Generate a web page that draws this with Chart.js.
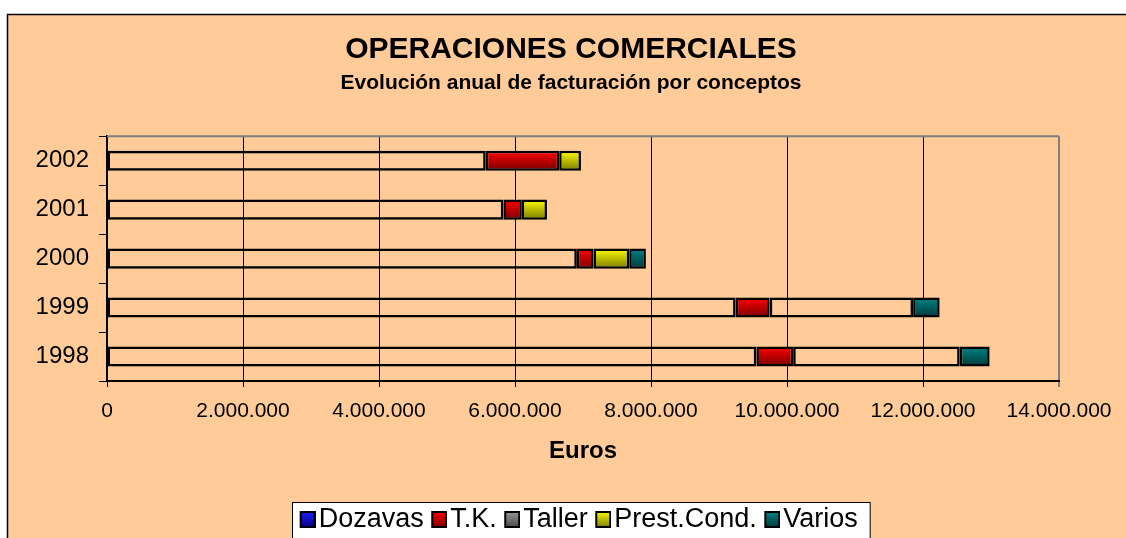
<!DOCTYPE html>
<html>
<head>
<meta charset="utf-8">
<script src="https://cdn.jsdelivr.net/npm/chart.js@4.4.1/dist/chart.umd.min.js"></script>
<style>
  html, body { margin: 0; padding: 0; background: #fff; }
  #wrap { width: 1126px; height: 538px; position: relative; }
</style>
</head>
<body>
<div id="wrap"><canvas id="chart"></canvas></div>
<script>
var FONT = "'Liberation Sans', Arial, sans-serif";
var PEACH = '#ffcc99';
var BAR_PCT = 0.41;
var TITLE_CENTER = 571;
var LEGEND_CENTER = 581;

// importes en euros
var years = ['1998', '1999', '2000', '2001', '2002'];
var dozavas   = [9550000, 9245000, 6910000, 5830000, 5570000];
var tk        = [540000, 500000, 245000, 270000, 1080000];
var taller    = [2450000, 2110000, 0, 0, 0];
var prestCond = [0, 0, 525000, 370000, 320000];
var varios    = [440000, 390000, 245000, 0, 0];

var xTickValues = [0, 2000000, 4000000, 6000000, 8000000, 10000000, 12000000, 14000000];
var xTickLabels = ['0', '2.000.000', '4.000.000', '6.000.000', '8.000.000', '10.000.000', '12.000.000', '14.000.000'];

function barFill(top, bottom) {
  return function (ctx) {
    var chart = ctx.chart;
    var y = chart.scales && chart.scales.y;
    if (!chart.chartArea || !y || ctx.dataIndex === undefined) return top;
    var yc = y.getPixelForValue(ctx.dataIndex);
    var half = y.height / years.length * BAR_PCT / 2;
    var g = chart.ctx.createLinearGradient(0, yc - half, 0, yc + half);
    g.addColorStop(0, top);
    g.addColorStop(1, bottom);
    return g;
  };
}

// cuadrito de la leyenda, con margen transparente a la izquierda
function swatch(top, bottom) {
  var c = document.createElement('canvas');
  c.width = 22; c.height = 17;
  var x = c.getContext('2d');
  var g = x.createLinearGradient(0, 0, 0, 17);
  g.addColorStop(0, top);
  g.addColorStop(1, bottom);
  x.fillStyle = g;
  x.fillRect(6, 0, 16, 17);
  x.strokeStyle = '#000';
  x.lineWidth = 2;
  x.strokeRect(7, 1, 14, 15);
  return c;
}

function serie(label, data, fill, legTop, legBottom) {
  return {
    label: label,
    data: data,
    backgroundColor: fill,
    legendSwatch: swatch(legTop, legBottom),
  };
}

var datasets = [
  serie('Dozavas', dozavas, 'rgba(0,0,0,0)', '#2020ff', '#000080'),
  serie('T.K.', tk, barFill('#ff0000', '#7a0000'), '#ff0000', '#7a0000'),
  serie('Taller', taller, 'rgba(0,0,0,0)', '#9a9a9a', '#4a4a4a'),
  serie('Prest.Cond.', prestCond, barFill('#ffff00', '#7a7a00'), '#ffff00', '#7a7a00'),
  serie('Varios', varios, barFill('#008585', '#003838'), '#008585', '#003838'),
];

function shiftBox(box, center) {
  var d = center - (box.left + box.right) / 2;
  box.left += d;
  box.right += d;
}

var frame = {
  id: 'frame',
  afterLayout: function (chart) {
    chart.boxes.forEach(function (b) {
      if (b === chart.legend) shiftBox(b, LEGEND_CENTER);
      else if (!b.axis && b.options && typeof b.options.text === 'string') shiftBox(b, TITLE_CENTER);
    });
  },
  beforeDraw: function (chart) {
    var c = chart.ctx;
    c.save();
    c.fillStyle = '#fff';
    c.fillRect(0, 0, chart.width, chart.height);
    c.fillStyle = PEACH;
    c.fillRect(8, 14, chart.width, chart.height);
    c.strokeStyle = '#000';
    c.lineWidth = 1.5;
    c.beginPath();
    c.moveTo(7.5, chart.height);
    c.lineTo(7.5, 14.5);
    c.lineTo(chart.width, 14.5);
    c.stroke();
    var lg = chart.legend;
    if (lg && lg.legendHitBoxes && lg.legendHitBoxes.length) {
      var hb = lg.legendHitBoxes;
      var last = hb[hb.length - 1];
      var l = hb[0].left - 12;
      var r = last.left + last.width + 12;
      var t = hb[0].top - 4;
      c.fillStyle = '#fff';
      c.fillRect(l, t, r - l, chart.height);
      c.strokeStyle = '#000';
      c.lineWidth = 1;
      c.strokeRect(Math.round(l) + 0.5, Math.round(t) + 0.5, r - l, chart.height);
    }
    c.restore();
  },
  beforeDatasetsDraw: function (chart) {
    var a = chart.chartArea, c = chart.ctx;
    c.save();
    c.strokeStyle = '#808080';
    c.lineWidth = 2;
    c.beginPath();
    c.moveTo(a.left, a.top);
    c.lineTo(a.right, a.top);
    c.stroke();
    c.restore();
  },
};

new Chart(document.getElementById('chart').getContext('2d'), {
  type: 'bar',
  data: { labels: years, datasets: datasets },
  options: {
    indexAxis: 'y',
    responsive: true,
    maintainAspectRatio: false,
    animation: false,
    layout: { padding: { left: 0, right: 67, top: 0, bottom: -5 } },
    datasets: {
      bar: {
        barPercentage: BAR_PCT,
        categoryPercentage: 1,
        borderColor: '#000',
        borderWidth: 2.5,
        borderSkipped: false,
      },
    },
    scales: {
      x: {
        stacked: true,
        min: 0,
        max: 14000000,
        afterBuildTicks: function (scale) {
          scale.ticks = xTickValues.map(function (v) { return { value: v }; });
        },
        afterFit: function (scale) { scale.height = 113; },
        grid: {
          color: function (ctx) { return ctx.index === xTickValues.length - 1 ? '#808080' : '#000'; },
          lineWidth: function (ctx) { return ctx.index === xTickValues.length - 1 ? 2 : 1; },
          tickLength: 6,
        },
        border: { color: '#000', width: 2 },
        ticks: {
          color: '#000',
          padding: 12,
          maxRotation: 0,
          font: { family: FONT, size: 21 },
          callback: function (value, index) { return xTickLabels[index]; },
        },
        title: {
          display: true,
          text: 'Euros',
          color: '#000',
          font: { family: FONT, size: 24, weight: 'bold' },
          padding: { top: 0, bottom: 28 },
        },
      },
      y: {
        stacked: true,
        reverse: true,
        afterFit: function (scale) { scale.width = 107; },
        grid: { offset: true, drawOnChartArea: false, color: '#000', tickLength: 8 },
        border: { color: '#000', width: 2 },
        ticks: { color: '#000', padding: 10, font: { family: FONT, size: 24 } },
      },
    },
    plugins: {
      title: {
        display: true,
        text: 'OPERACIONES COMERCIALES',
        color: '#000',
        font: { family: FONT, size: 30, weight: 'bold' },
        padding: { top: 32, bottom: 0 },
      },
      subtitle: {
        display: true,
        text: 'Evolución anual de facturación por conceptos',
        color: '#000',
        font: { family: FONT, size: 21, weight: 'bold' },
        padding: { top: 3, bottom: 40 },
      },
      legend: {
        position: 'bottom',
        labels: {
          color: '#000',
          usePointStyle: true,
          pointStyleWidth: 1,
          boxHeight: 17,
          padding: 12,
          font: { family: FONT, size: 27 },
          generateLabels: function (chart) {
            return chart.data.datasets.map(function (ds, i) {
              return {
                text: ds.label,
                pointStyle: ds.legendSwatch,
                fillStyle: 'rgba(0,0,0,0)',
                strokeStyle: 'rgba(0,0,0,0)',
                lineWidth: 0,
                hidden: false,
                fontColor: '#000',
                datasetIndex: i,
              };
            });
          },
        },
      },
      tooltip: { enabled: false },
    },
  },
  plugins: [frame],
});
</script>
</body>
</html>
